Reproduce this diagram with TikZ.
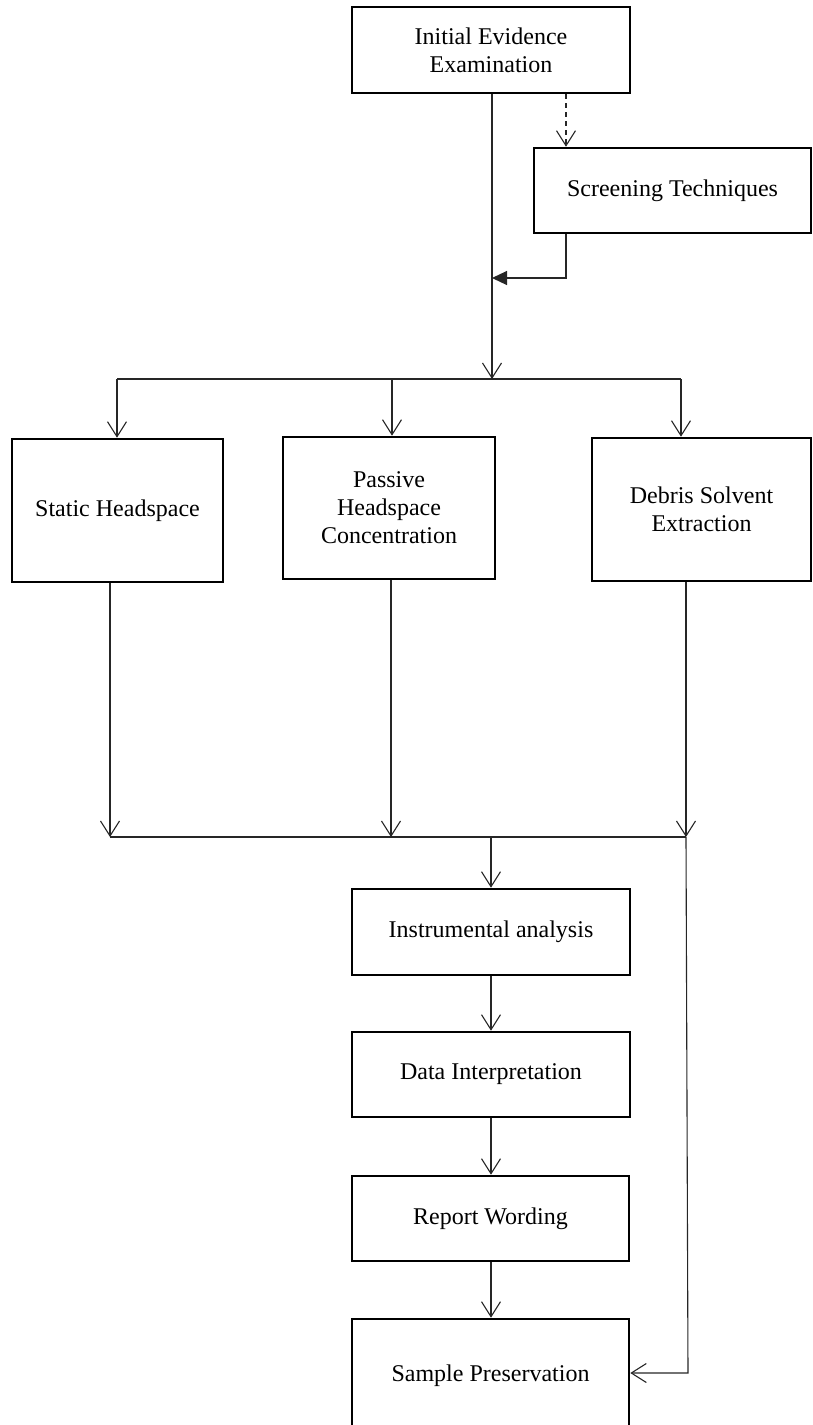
\documentclass[tikz,border=0pt]{standalone}
\usepackage{fontspec}
\setmainfont{Liberation Serif}
\usetikzlibrary{arrows.meta}
\tikzset{
  box/.style={draw, line width=2.6pt, inner sep=0pt, align=center, font=\fontsize{24}{28}\selectfont},
  conn/.style={line width=1.1pt, draw=black!85},
  opentip/.style={-{Straight Barb[length=15pt,width=19pt,line width=1.1pt]}},
  filltip/.style={-{Triangle[length=15pt,width=14pt]}},
}
\begin{document}
\begin{tikzpicture}[x=1pt,y=-1pt]
\useasboundingbox (0,0) rectangle (812,1425);
% boxes
\node[box, minimum width=278pt, minimum height=86pt] (init) at (491,50) {Initial Evidence\\Examination};
\node[box, minimum width=277pt, minimum height=85pt] (screen) at (672.5,190.5) {Screening Techniques};
\node[box, minimum width=211pt, minimum height=143pt] (static) at (117.5,510.5) {Static Headspace};
\node[box, minimum width=212pt, minimum height=142pt] (passive) at (389,508) {Passive\\Headspace\\Concentration};
\node[box, minimum width=219pt, minimum height=143pt] (debris) at (701.5,509.5) {Debris Solvent\\Extraction};
\node[box, minimum width=278pt, minimum height=86pt] (instr) at (491,932) {Instrumental analysis};
\node[box, minimum width=278pt, minimum height=85pt] (data) at (491,1074.5) {Data Interpretation};
\node[box, minimum width=277pt, minimum height=85pt] (report) at (490.5,1218.5) {Report Wording};
\node[box, minimum width=277pt, minimum height=114pt] (sample) at (490.5,1376) {Sample Preservation};
% junction coordinates
\coordinate (mainx) at (492,0);
\coordinate (dashx) at (566,0);
\coordinate (h1l) at (117,379);
\coordinate (h1m) at (392,379);
\coordinate (h1r) at (681,379);
\coordinate (back) at (566,278);
\coordinate (backtip) at (492,278);
\coordinate (h2l) at (110,837);
\coordinate (h2m) at (391,837);
\coordinate (h2c) at (491,837);
\coordinate (h2r) at (686,837);
\coordinate (rdown) at (688,1373);
% top connectors
\draw[conn, opentip] (init.south -| mainx) -- (mainx |- h1l);
\draw[conn, dashed, dash pattern=on 5pt off 4pt, opentip] (init.south -| dashx) -- (screen.north -| dashx);
\draw[conn, filltip] (screen.south -| dashx) -- (back) -- (backtip);
\draw[conn] (h1l) -- (h1r);
\draw[conn, opentip] (h1l) -- (static.north -| h1l);
\draw[conn, opentip] (h1m) -- (passive.north -| h1m);
\draw[conn, opentip] (h1r) -- (debris.north -| h1r);
% lower connectors
\draw[conn, opentip] (static.south -| h2l) -- (h2l);
\draw[conn, opentip] (passive.south -| h2m) -- (h2m);
\draw[conn, opentip] (debris.south -| h2r) -- (h2r);
\draw[conn] (h2l) -- (h2r);
\draw[conn, opentip] (h2r) -- (rdown) -- (sample.east |- rdown);
\draw[conn, opentip] (h2c) -- (instr.north -| h2c);
\draw[conn, opentip] (instr.south -| h2c) -- (data.north -| h2c);
\draw[conn, opentip] (data.south -| h2c) -- (report.north -| h2c);
\draw[conn, opentip] (report.south -| h2c) -- (sample.north -| h2c);
\end{tikzpicture}
\end{document}
